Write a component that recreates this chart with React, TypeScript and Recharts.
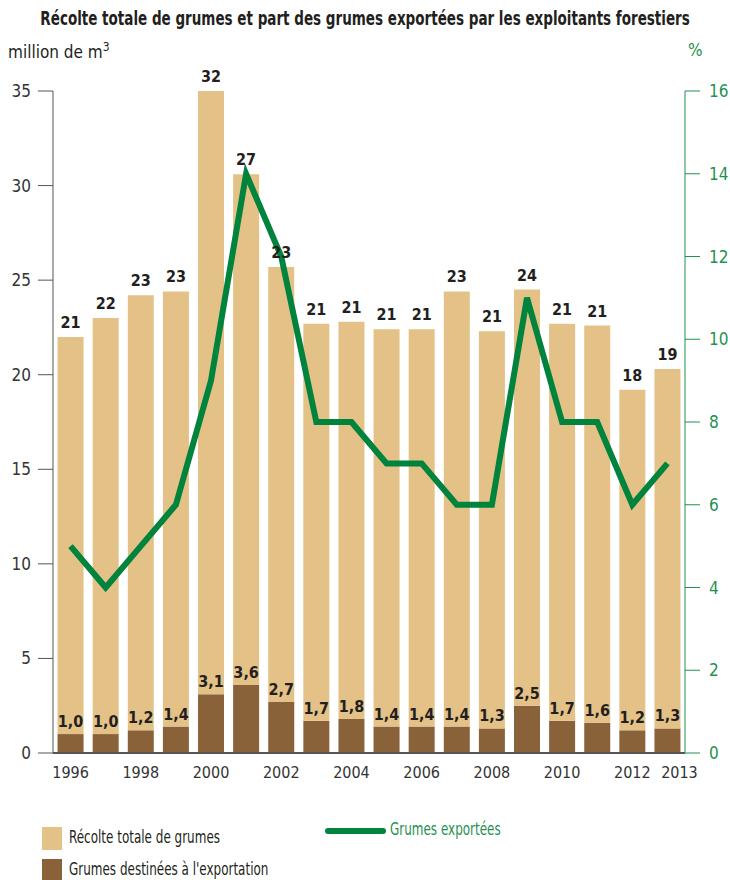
import {
  ComposedChart, Bar, Line, XAxis, YAxis, LabelList,
} from 'recharts'

const years = [
  '1996', '1997', '1998', '1999', '2000', '2001', '2002', '2003', '2004',
  '2005', '2006', '2007', '2008', '2009', '2010', '2011', '2012', '2013',
]
// top of the tan bar, million m3
const barTop = [22.0, 23.0, 24.2, 24.4, 35.1, 30.6, 25.7, 22.7, 22.8, 22.4, 22.4, 24.4, 22.3, 24.5, 22.7, 22.6, 19.2, 20.3]
const harvestLabel = [21, 22, 23, 23, 32, 27, 23, 21, 21, 21, 21, 23, 21, 24, 21, 21, 18, 19]
const exportVol = [1.0, 1.0, 1.2, 1.4, 3.1, 3.6, 2.7, 1.7, 1.8, 1.4, 1.4, 1.4, 1.3, 2.5, 1.7, 1.6, 1.2, 1.3]
const exportPct = [5, 4, 5, 6, 9, 14, 12, 8, 8, 7, 7, 6, 6, 11, 8, 8, 6, 7]

const xTicks = ['1996', '1998', '2000', '2002', '2004', '2006', '2008', '2010', '2012', '2013']
const leftTicks = [0, 5, 10, 15, 20, 25, 30, 35]
const rightTicks = [0, 2, 4, 6, 8, 10, 12, 14, 16]

const TAN = '#e3c187'
const BROWN = '#8a6239'
const GREEN = '#00843d'
const GREEN_TXT = '#1f9150'
const FONT = "'DejaVu Sans Condensed', 'Roboto', sans-serif"

const data = years.map((y, i) => ({
  year: y,
  exp: exportVol[i],
  rest: +(barTop[i] - exportVol[i]).toFixed(2),
  harvestLabel: harvestLabel[i],
  pct: exportPct[i],
}))

// eslint-disable-next-line @typescript-eslint/no-explicit-any
function XTick({ x, y, payload }: any) {
  const dx = payload.value === '2013' ? 12 : 0
  return (
    <text x={x + dx} y={y} dy={17} textAnchor="middle" fill="#333" fontSize={16} fontFamily={FONT}>
      {payload.value}
    </text>
  )
}

const legendText = { position: 'absolute' as const, fontSize: 18, whiteSpace: 'nowrap' as const, transform: 'scaleX(0.74)', transformOrigin: 'left center' }

export default function App() {
  return (
    <div style={{ position: 'absolute', left: 0, top: 0, width: 730, height: 880, background: '#fff', fontFamily: FONT, overflow: 'hidden' }}>
      <div style={{ position: 'absolute', left: -150, width: 1030, top: 7, textAlign: 'center', whiteSpace: 'nowrap' }}>
        <span style={{ display: 'inline-block', fontSize: 19, fontWeight: 'bold', color: '#231f20', transform: 'scaleX(0.79)', transformOrigin: 'center' }}>
          Récolte totale de grumes et part des grumes exportées par les exploitants forestiers
        </span>
      </div>
      <div style={{ position: 'absolute', left: 8, top: 40, fontSize: 17, color: '#231f20', whiteSpace: 'nowrap' }}>
        million de m<sup style={{ fontSize: 12 }}>3</sup>
      </div>
      <div style={{ position: 'absolute', left: 688, top: 40, fontSize: 17, color: GREEN_TXT }}>%</div>

      <ComposedChart
        width={730}
        height={880}
        data={data}
        margin={{ top: 91, right: 0, left: 0, bottom: 87 }}
        barCategoryGap="13%"
      >
        <XAxis
          dataKey="year"
          ticks={xTicks}
          interval={0}
          tick={<XTick />}
          tickLine={false}
          axisLine={{ stroke: '#555', strokeWidth: 2 }}
          height={40}
        />
        <YAxis
          yAxisId="left"
          domain={[0, 35]}
          ticks={leftTicks}
          width={53}
          tickSize={15}
          tickMargin={7}
          tick={{ fill: '#333', fontSize: 17, fontFamily: FONT }}
          tickLine={{ stroke: '#555' }}
          axisLine={{ stroke: '#555' }}
          allowDataOverflow
        />
        <YAxis
          yAxisId="right"
          orientation="right"
          domain={[0, 16]}
          ticks={rightTicks}
          width={45}
          tickSize={15}
          tickMargin={9}
          tick={{ fill: GREEN_TXT, fontSize: 17, fontFamily: FONT }}
          tickLine={{ stroke: GREEN_TXT }}
          axisLine={{ stroke: GREEN_TXT }}
        />
        <Bar yAxisId="left" dataKey="exp" stackId="a" fill={BROWN} isAnimationActive={false}>
          <LabelList
            dataKey="exp"
            position="top"
            offset={7}
            formatter={(v: number) => v.toFixed(1).replace('.', ',')}
            style={{ fill: '#231f20', fontSize: 16, fontWeight: 'bold', fontFamily: FONT }}
          />
        </Bar>
        <Bar yAxisId="left" dataKey="rest" stackId="a" fill={TAN} isAnimationActive={false}>
          <LabelList
            dataKey="harvestLabel"
            position="top"
            offset={9}
            style={{ fill: '#231f20', fontSize: 16, fontWeight: 'bold', fontFamily: FONT }}
          />
        </Bar>
        <Line
          yAxisId="right"
          type="linear"
          dataKey="pct"
          stroke={GREEN}
          strokeWidth={6}
          dot={false}
          isAnimationActive={false}
        />
      </ComposedChart>

      <div style={{ position: 'absolute', left: 42, top: 827, width: 20, height: 23, background: TAN }} />
      <div style={{ ...legendText, left: 69, top: 826, color: '#231f20' }}>Récolte totale de grumes</div>
      <div style={{ position: 'absolute', left: 42, top: 859, width: 20, height: 21, background: BROWN }} />
      <div style={{ ...legendText, left: 69, top: 858, color: '#231f20' }}>Grumes destinées à l'exportation</div>
      <div style={{ position: 'absolute', left: 325, top: 828, width: 61, height: 6, borderRadius: 3, background: GREEN }} />
      <div style={{ ...legendText, left: 390, top: 818, color: GREEN_TXT }}>Grumes exportées</div>
    </div>
  )
}
